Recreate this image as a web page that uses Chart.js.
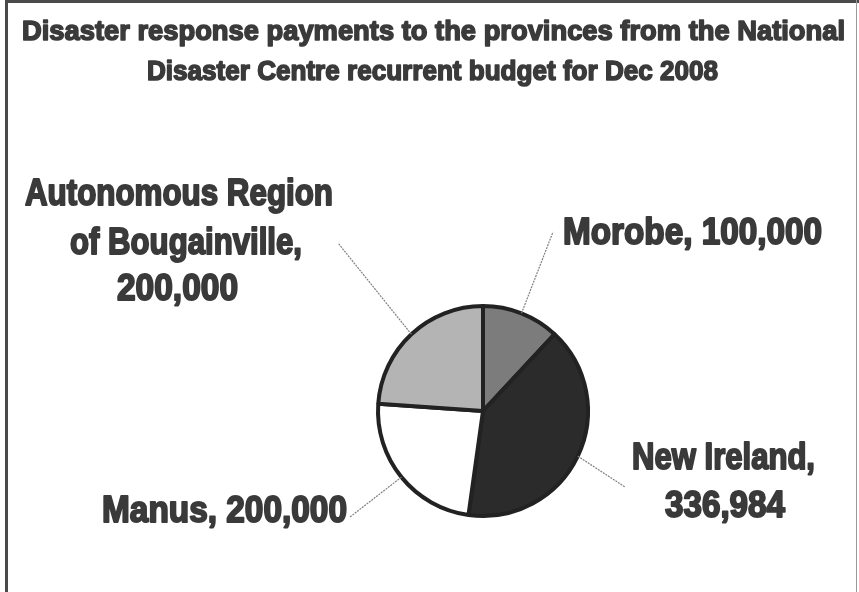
<!DOCTYPE html>
<html>
<head>
<meta charset="utf-8">
<script src="https://cdn.jsdelivr.net/npm/chart.js@4.4.1/dist/chart.umd.min.js"></script>
<style>
  html, body { margin: 0; padding: 0; background: #fff; }
  #wrap { width: 859px; height: 592px; position: relative; }
</style>
</head>
<body>
<div id="wrap"><canvas id="pie" width="859" height="592"></canvas></div>
<script>
const titleLines = ['Disaster response payments to the provinces from the National',
                    'Disaster Centre recurrent budget for Dec 2008'];
const provinces = ['Morobe', 'New Ireland', 'Manus', 'Autonomous Region of Bougainville'];
const payments = [100000, 336984, 200000, 200000];
const sliceColors = ['#7c7c7c', '#2b2b2b', '#ffffff', '#b4b4b4'];

// where each label line goes: how many words, left x, baseline y, width
const labelLayout = [
    { anchor: [553, 232], lines: [{ n: 3, x: 563, y: 244, w: 259 }] },
    { anchor: [625, 487], lines: [{ n: 2, x: 632, y: 469, w: 183 }, { n: 1, x: 665, y: 517, w: 120 }] },
    { anchor: [350, 517], lines: [{ n: 2, x: 102, y: 522, w: 245 }] },
    { anchor: [338, 243], lines: [{ n: 2, x: 25, y: 205, w: 308 }, { n: 2, x: 70, y: 254, w: 232 }, { n: 1, x: 117, y: 300, w: 121 }] }
];

// draw text squeezed/stretched to a given width, thickened a bit like the scan
function fitText(ctx, text, x, y, w, thick) {
    const m = ctx.measureText(text).width;
    ctx.save();
    ctx.translate(x, y);
    ctx.scale(w / m, 1);
    ctx.lineWidth = thick;
    ctx.lineJoin = 'round';
    ctx.strokeText(text, 0, 0);
    ctx.fillText(text, 0, 0);
    ctx.restore();
}

const scanLook = {
    id: 'scanLook',
    beforeDraw(chart) {
        const ctx = chart.ctx;
        ctx.save();
        ctx.fillStyle = '#fff';
        ctx.fillRect(0, 0, chart.width, chart.height);
        // frame
        ctx.fillStyle = '#4a4a4a';
        ctx.fillRect(5, 0, 3, chart.height);
        ctx.fillRect(5, 0, chart.width - 5, 3);
        ctx.fillStyle = '#9a9a9a';
        ctx.fillRect(856, 0, 1, chart.height);
        // title
        ctx.fillStyle = '#3a3a3a';
        ctx.strokeStyle = '#3a3a3a';
        ctx.font = 'bold 28px "Liberation Sans", Arial, sans-serif';
        ctx.textBaseline = 'alphabetic';
        fitText(ctx, titleLines[0], 22, 40, 823, 1.6);
        fitText(ctx, titleLines[1], 147, 80, 571, 1.6);
        ctx.restore();
    },
    afterDatasetsDraw(chart) {
        const ctx = chart.ctx;
        const arcs = chart.getDatasetMeta(0).data;
        ctx.save();
        arcs.forEach((arc, i) => {
            const lay = labelLayout[i];
            const mid = (arc.startAngle + arc.endAngle) / 2;
            const px = arc.x + Math.cos(mid) * arc.outerRadius;
            const py = arc.y + Math.sin(mid) * arc.outerRadius;
            ctx.strokeStyle = '#808080';
            ctx.lineWidth = 1.2;
            ctx.setLineDash([2, 1]);
            ctx.beginPath();
            ctx.moveTo(px, py);
            ctx.lineTo(lay.anchor[0], lay.anchor[1]);
            ctx.stroke();
            ctx.setLineDash([]);

            const words = (provinces[i] + ', ' + payments[i].toLocaleString('en-US')).split(' ');
            ctx.fillStyle = '#3a3a3a';
            ctx.strokeStyle = '#3a3a3a';
            ctx.font = 'bold 37px "Liberation Sans", Arial, sans-serif';
            let k = 0;
            lay.lines.forEach(ln => {
                const txt = words.slice(k, k + ln.n).join(' ');
                k += ln.n;
                fitText(ctx, txt, ln.x, ln.y, ln.w, 2);
            });
        });
        ctx.restore();
    }
};

new Chart(document.getElementById('pie'), {
    type: 'pie',
    data: {
        labels: provinces,
        datasets: [{
            data: payments,
            backgroundColor: sliceColors,
            borderColor: '#222',
            borderWidth: 4,
            radius: 105
        }]
    },
    options: {
        responsive: false,
        animation: false,
        layout: { padding: { left: 378, right: 271, top: 306, bottom: 76 } },
        plugins: { legend: { display: false }, tooltip: { enabled: false }, title: { display: false } }
    },
    plugins: [scanLook]
});
</script>
</body>
</html>
